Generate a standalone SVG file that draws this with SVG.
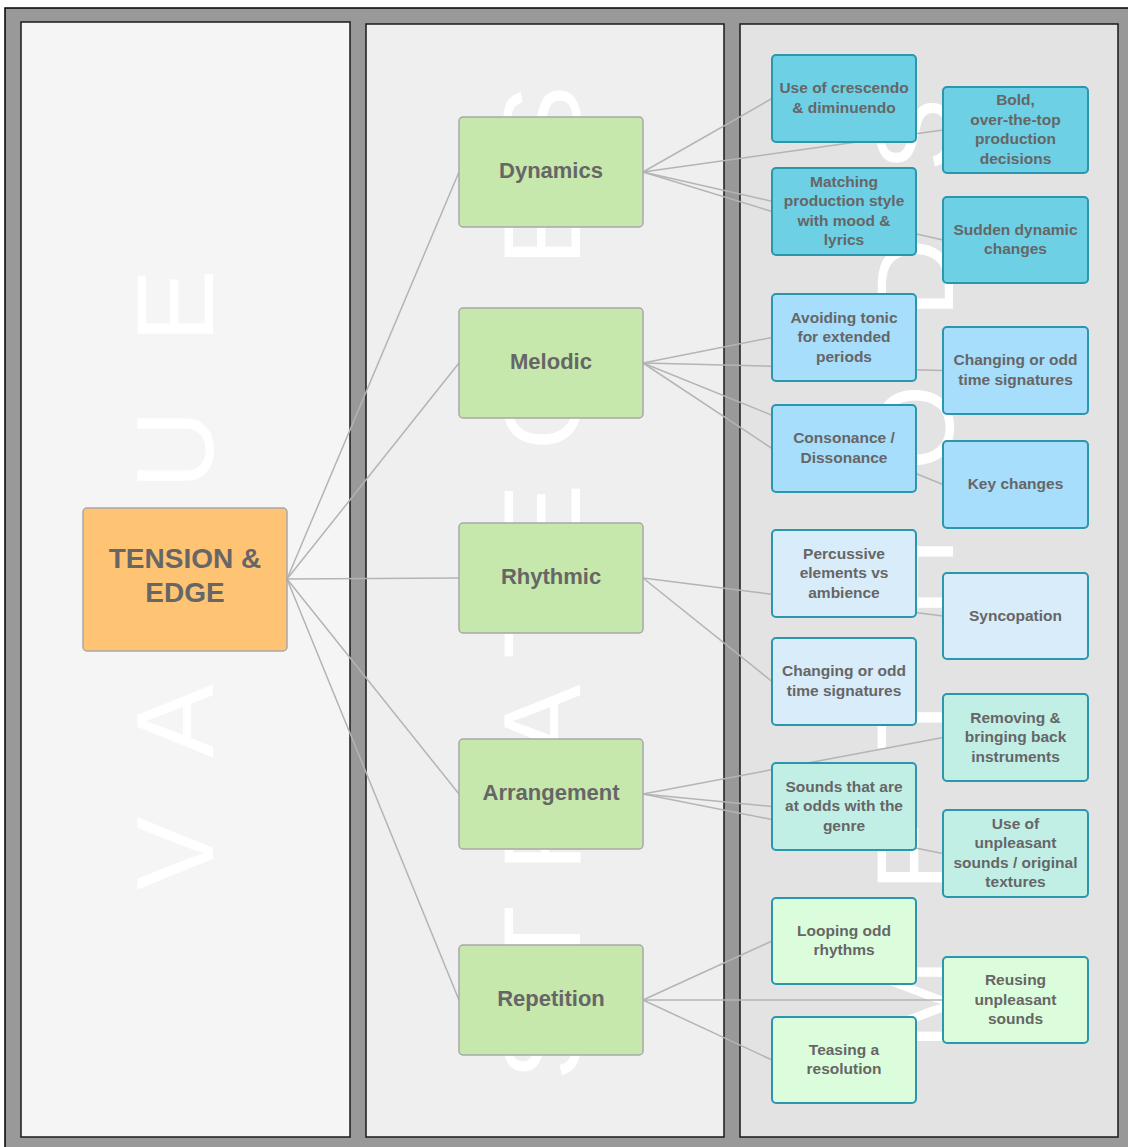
<svg xmlns="http://www.w3.org/2000/svg" width="1128" height="1147" viewBox="0 0 1128 1147">
  <style>
    .panel { stroke: #1a1a1a; stroke-width: 1.5; }
    .watermark { font-family: "Liberation Sans", Arial, sans-serif; font-size: 110px; fill: #ffffff; }
    .edge { stroke: #b4b4b4; stroke-width: 1.5; fill: none; }
    .root rect { fill: #ffc374; stroke: #a8a8a8; stroke-width: 1.5; }
    .strategy rect { fill: #c6e8ac; stroke: #a8a8a8; stroke-width: 1.5; }
    .method rect { stroke: #2a97ae; stroke-width: 2; }
    .dyn rect { fill: #6dd0e5; }
    .mel rect { fill: #a6defb; }
    .rhy rect { fill: #d9ecf9; }
    .arr rect { fill: #c1efe6; }
    .rep rect { fill: #dcfddb; }
    text.lbl { font-family: "Liberation Sans", Arial, sans-serif; font-weight: bold; fill: #666666; text-anchor: middle; }
    .root text.lbl { font-size: 28px; }
    .strategy text.lbl { font-size: 22px; }
    .method text.lbl { font-size: 15.5px; }
  </style>

  <!-- frame and the three columns -->
  <rect x="5" y="8" width="1126" height="1142" fill="#999999" stroke="#000000" stroke-width="1.5"/>
  <rect class="panel" x="21" y="22" width="329" height="1115" fill="#f5f5f5"/>
  <rect class="panel" x="366" y="24" width="358" height="1113" fill="#efefef"/>
  <rect class="panel" x="740" y="24" width="378" height="1113" fill="#e3e3e3"/>

  <!-- column headings, set vertically -->
  <text class="watermark" transform="translate(213,890) rotate(-90)" style="letter-spacing:67px">VALUE</text>
  <text class="watermark" transform="translate(580,1080) rotate(-90)" style="letter-spacing:34px">STRATEGIES</text>
  <text class="watermark" transform="translate(953,1050) rotate(-90)" style="letter-spacing:67px">METHODS</text>

  <!-- connectors -->
  <g id="connectors">
    <line class="edge" x1="287" y1="579" x2="459" y2="172"/>
    <line class="edge" x1="287" y1="579" x2="459" y2="363"/>
    <line class="edge" x1="287" y1="579" x2="459" y2="578"/>
    <line class="edge" x1="287" y1="579" x2="459" y2="794"/>
    <line class="edge" x1="287" y1="579" x2="459" y2="1000"/>

    <line class="edge" x1="643" y1="172" x2="772" y2="98.5"/>
    <line class="edge" x1="643" y1="172" x2="943" y2="130"/>
    <line class="edge" x1="643" y1="172" x2="772" y2="211.5"/>
    <line class="edge" x1="643" y1="172" x2="943" y2="240"/>

    <line class="edge" x1="643" y1="363" x2="772" y2="337.5"/>
    <line class="edge" x1="643" y1="363" x2="943" y2="370.5"/>
    <line class="edge" x1="643" y1="363" x2="772" y2="448.5"/>
    <line class="edge" x1="643" y1="363" x2="943" y2="484.5"/>

    <line class="edge" x1="643" y1="578" x2="943" y2="616"/>
    <line class="edge" x1="643" y1="578" x2="772" y2="681.5"/>

    <line class="edge" x1="643" y1="794" x2="943" y2="737.5"/>
    <line class="edge" x1="643" y1="794" x2="772" y2="806.5"/>
    <line class="edge" x1="643" y1="794" x2="943" y2="853.5"/>

    <line class="edge" x1="643" y1="1000" x2="772" y2="941"/>
    <line class="edge" x1="643" y1="1000" x2="943" y2="1000"/>
    <line class="edge" x1="643" y1="1000" x2="772" y2="1060"/>
  </g>

  <!-- central topic -->
  <g id="tension-edge" class="root">
    <rect x="83" y="508" width="204" height="143" rx="4"/>
    <text class="lbl" x="185" y="568">TENSION &amp;</text>
    <text class="lbl" x="185" y="602">EDGE</text>
  </g>

  <!-- strategies -->
  <g id="dynamics" class="strategy">
    <rect x="459" y="117" width="184" height="110" rx="4"/>
    <text class="lbl" x="551" y="177.5">Dynamics</text>
  </g>
  <g id="melodic" class="strategy">
    <rect x="459" y="308" width="184" height="110" rx="4"/>
    <text class="lbl" x="551" y="368.5">Melodic</text>
  </g>
  <g id="rhythmic" class="strategy">
    <rect x="459" y="523" width="184" height="110" rx="4"/>
    <text class="lbl" x="551" y="583.5">Rhythmic</text>
  </g>
  <g id="arrangement" class="strategy">
    <rect x="459" y="739" width="184" height="110" rx="4"/>
    <text class="lbl" x="551" y="799.5">Arrangement</text>
  </g>
  <g id="repetition" class="strategy">
    <rect x="459" y="945" width="184" height="110" rx="4"/>
    <text class="lbl" x="551" y="1005.5">Repetition</text>
  </g>

  <!-- methods: dynamics -->
  <g id="crescendo" class="method dyn">
    <rect x="772" y="55" width="144" height="87" rx="4"/>
    <text class="lbl" x="844" y="93">Use of crescendo</text>
    <text class="lbl" x="844" y="112.5">&amp; diminuendo</text>
  </g>
  <g id="bold-production" class="method dyn">
    <rect x="943" y="87" width="145" height="86" rx="4"/>
    <text class="lbl" x="1015.5" y="105">Bold,</text>
    <text class="lbl" x="1015.5" y="124.5">over-the-top</text>
    <text class="lbl" x="1015.5" y="144">production</text>
    <text class="lbl" x="1015.5" y="163.5">decisions</text>
  </g>
  <g id="matching-style" class="method dyn">
    <rect x="772" y="168" width="144" height="87" rx="4"/>
    <text class="lbl" x="844" y="186.5">Matching</text>
    <text class="lbl" x="844" y="206">production style</text>
    <text class="lbl" x="844" y="225.5">with mood &amp;</text>
    <text class="lbl" x="844" y="245">lyrics</text>
  </g>
  <g id="sudden-dynamic" class="method dyn">
    <rect x="943" y="197" width="145" height="86" rx="4"/>
    <text class="lbl" x="1015.5" y="234.5">Sudden dynamic</text>
    <text class="lbl" x="1015.5" y="254">changes</text>
  </g>

  <!-- methods: melodic -->
  <g id="avoiding-tonic" class="method mel">
    <rect x="772" y="294" width="144" height="87" rx="4"/>
    <text class="lbl" x="844" y="322.5">Avoiding tonic</text>
    <text class="lbl" x="844" y="342">for extended</text>
    <text class="lbl" x="844" y="361.5">periods</text>
  </g>
  <g id="time-signatures-melodic" class="method mel">
    <rect x="943" y="327" width="145" height="87" rx="4"/>
    <text class="lbl" x="1015.5" y="365">Changing or odd</text>
    <text class="lbl" x="1015.5" y="384.5">time signatures</text>
  </g>
  <g id="consonance" class="method mel">
    <rect x="772" y="405" width="144" height="87" rx="4"/>
    <text class="lbl" x="844" y="443">Consonance /</text>
    <text class="lbl" x="844" y="462.5">Dissonance</text>
  </g>
  <g id="key-changes" class="method mel">
    <rect x="943" y="441" width="145" height="87" rx="4"/>
    <text class="lbl" x="1015.5" y="489">Key changes</text>
  </g>

  <!-- methods: rhythmic -->
  <g id="percussive" class="method rhy">
    <rect x="772" y="530" width="144" height="87" rx="4"/>
    <text class="lbl" x="844" y="558.5">Percussive</text>
    <text class="lbl" x="844" y="578">elements vs</text>
    <text class="lbl" x="844" y="597.5">ambience</text>
  </g>
  <g id="syncopation" class="method rhy">
    <rect x="943" y="573" width="145" height="86" rx="4"/>
    <text class="lbl" x="1015.5" y="620.5">Syncopation</text>
  </g>
  <g id="time-signatures-rhythmic" class="method rhy">
    <rect x="772" y="638" width="144" height="87" rx="4"/>
    <text class="lbl" x="844" y="676">Changing or odd</text>
    <text class="lbl" x="844" y="695.5">time signatures</text>
  </g>

  <!-- methods: arrangement -->
  <g id="removing-instruments" class="method arr">
    <rect x="943" y="694" width="145" height="87" rx="4"/>
    <text class="lbl" x="1015.5" y="722.5">Removing &amp;</text>
    <text class="lbl" x="1015.5" y="742">bringing back</text>
    <text class="lbl" x="1015.5" y="761.5">instruments</text>
  </g>
  <g id="odds-with-genre" class="method arr">
    <rect x="772" y="763" width="144" height="87" rx="4"/>
    <text class="lbl" x="844" y="791.5">Sounds that are</text>
    <text class="lbl" x="844" y="811">at odds with the</text>
    <text class="lbl" x="844" y="830.5">genre</text>
  </g>
  <g id="unpleasant-textures" class="method arr">
    <rect x="943" y="810" width="145" height="87" rx="4"/>
    <text class="lbl" x="1015.5" y="828.5">Use of</text>
    <text class="lbl" x="1015.5" y="848">unpleasant</text>
    <text class="lbl" x="1015.5" y="867.5">sounds / original</text>
    <text class="lbl" x="1015.5" y="887">textures</text>
  </g>

  <!-- methods: repetition -->
  <g id="looping-rhythms" class="method rep">
    <rect x="772" y="898" width="144" height="86" rx="4"/>
    <text class="lbl" x="844" y="935.5">Looping odd</text>
    <text class="lbl" x="844" y="955">rhythms</text>
  </g>
  <g id="reusing-sounds" class="method rep">
    <rect x="943" y="957" width="145" height="86" rx="4"/>
    <text class="lbl" x="1015.5" y="985">Reusing</text>
    <text class="lbl" x="1015.5" y="1004.5">unpleasant</text>
    <text class="lbl" x="1015.5" y="1024">sounds</text>
  </g>
  <g id="teasing-resolution" class="method rep">
    <rect x="772" y="1017" width="144" height="86" rx="4"/>
    <text class="lbl" x="844" y="1054.5">Teasing a</text>
    <text class="lbl" x="844" y="1074">resolution</text>
  </g>
</svg>
